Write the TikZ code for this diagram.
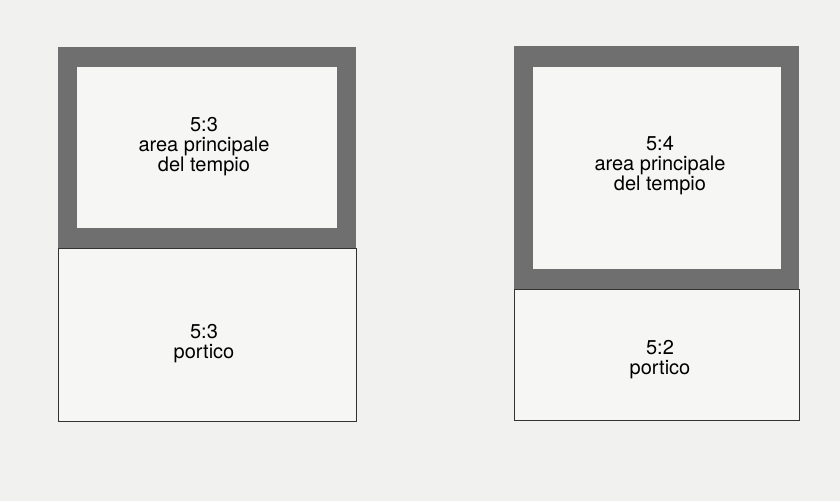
\documentclass[tikz,border=0pt]{standalone}
\usepackage{fontspec}
\setmainfont{TeX Gyre Heros}
\definecolor{paper}{HTML}{F1F1EF}
\definecolor{wall}{HTML}{6F6F6F}
\definecolor{cella}{HTML}{F6F6F4}
\begin{document}
\begin{tikzpicture}[x=1pt, y=-1pt,
  label/.style={align=center, font=\fontsize{20}{20}\selectfont, inner sep=0pt},
  portico/.style={draw=black!80, line width=0.8pt, fill=cella}]
  \fill[paper] (0,0) rectangle (840,501);
  % left temple, 5:3 + 5:3
  \fill[wall] (58,47) rectangle (356,248);
  \fill[cella] (77,67) rectangle (337,228);
  \draw[portico] (58,248) rectangle (356,421);
  \node[label] (mainL) at (204,147) {5:3\\area principale\\del tempio};
  \node[label] (porL) at (204,344) {5:3\\portico};
  % right temple, 5:4 + 5:2
  \fill[wall] (514,46) rectangle (799,289);
  \fill[cella] (533,67) rectangle (781,269);
  \draw[portico] (514,289) rectangle (799,420);
  \node[label] (mainR) at (660,166) {5:4\\area principale\\del tempio};
  \node[label] (porR) at (660,360) {5:2\\portico};
\end{tikzpicture}
\end{document}
